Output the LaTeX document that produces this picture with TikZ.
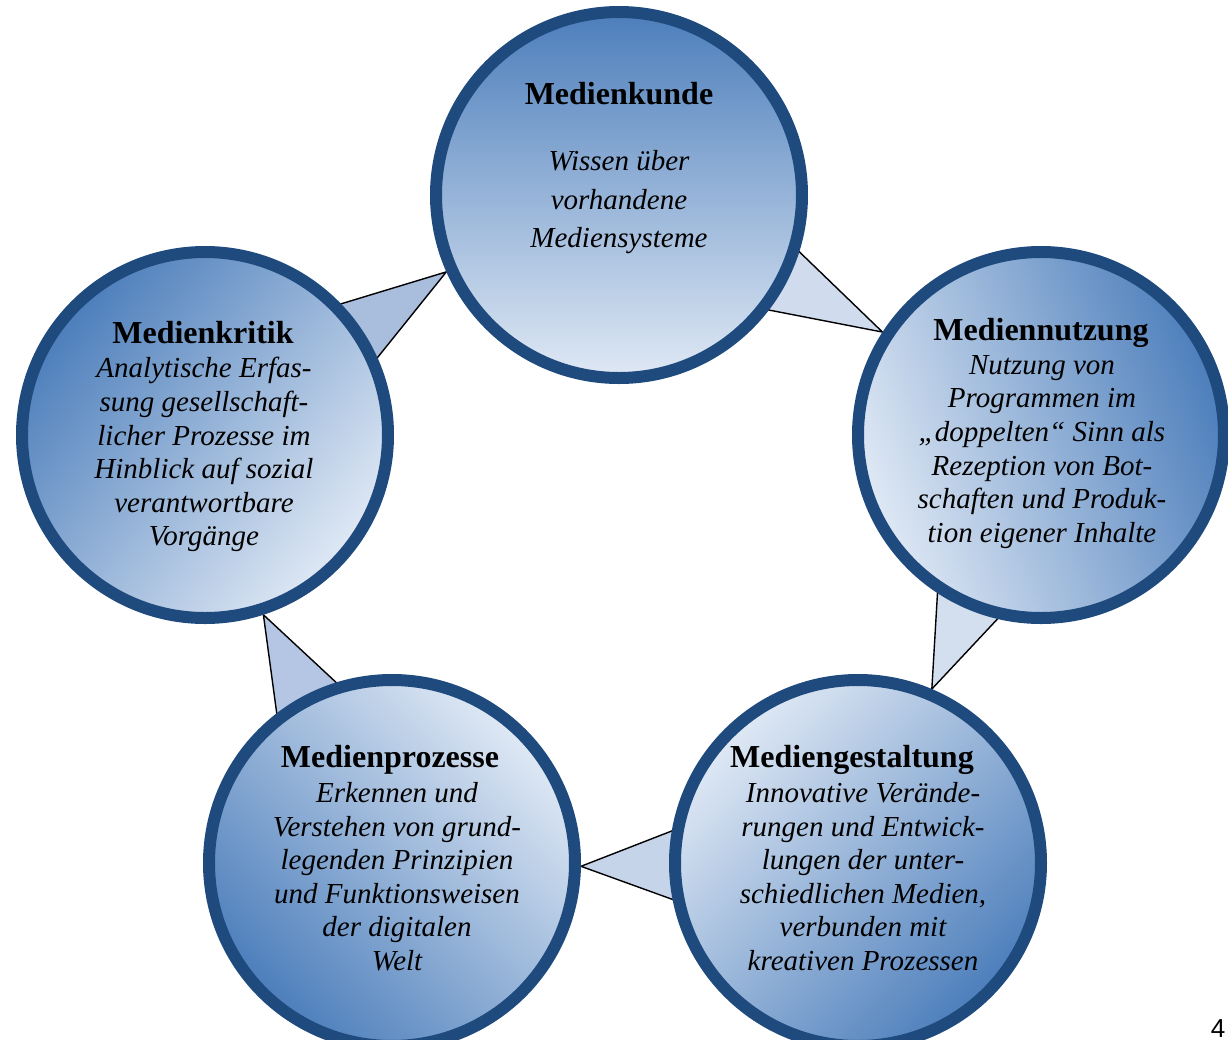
\documentclass[tikz,border=0pt]{standalone}
\usepackage{fontspec}
\setmainfont{Liberation Serif}
\newfontfamily\seitenfont{Liberation Sans}
\usepackage{tikz}
\usetikzlibrary{calc,backgrounds}
\definecolor{rand}{RGB}{31,74,126}
\definecolor{dunkel}{RGB}{76,126,187}
\definecolor{hell}{RGB}{224,233,245}
\definecolor{keilA}{RGB}{208,220,238}
\definecolor{keilB}{RGB}{211,223,239}
\definecolor{keilC}{RGB}{198,212,234}
\definecolor{keilD}{RGB}{180,198,227}
\definecolor{keilE}{RGB}{169,189,220}

\begin{document}
\begin{tikzpicture}
    [x=0.5pt,y=-0.5pt,
      kreis/.style={circle,draw=rand,line width=6pt,minimum size=183pt,inner sep=0pt,
        top color=dunkel,bottom color=hell},
      titel/.style={anchor=base,inner sep=0pt,font=\fontsize{16}{19}\selectfont\bfseries},
      inhalt/.style={anchor=north,inner sep=0pt,align=center,font=\fontsize{14.5}{16.8}\selectfont\itshape},
      keil/.style={draw=black,line width=0.7pt}]
      \useasboundingbox (0,0) rectangle (1228,1040);

      \node[kreis,shading angle=0] (kunde) at (619,195) {};
      \node[kreis,shading angle=-70] (nutzung) at (1041,435) {};
      \node[kreis,shading angle=-135] (gestaltung) at (858,863) {};
      \node[kreis,shading angle=135] (prozesse) at (392,863) {};
      \node[kreis,shading angle=50] (kritik) at (205,435) {};

      % Keile von Kreis zu Kreis
      \begin{scope}[on background layer]
      \foreach \from/\to/\winkel/\breite/\farbe in {
	  kunde/nutzung/147/44/keilA,
	  nutzung/gestaltung/67/50/keilB,
	  gestaltung/prozesse/-1/52/keilC,
	  prozesse/kritik/-72/50/keilD,
	  kritik/kunde/204/45/keilE}
	\draw[keil,fill=\farbe] (\to.\winkel) -- ($(\from.center)!\breite pt!90:(\to.\winkel)$)
	  -- ($(\from.center)!\breite pt!-90:(\to.\winkel)$) -- cycle;
      \end{scope}

      \node[titel] (kunde-titel) at (619,104) {Medienkunde};
      \node[inhalt,font=\fontsize{14.5}{19.25}\selectfont\itshape] (kunde-text) at (619,150)
	{Wissen über\\vorhandene\\Mediensysteme};

      \node[titel] (nutzung-titel) at (1041,340) {Mediennutzung};
      \node[inhalt] (nutzung-text) at (1042,355)
	{Nutzung von\\Programmen im\\„doppelten“ Sinn als\\Rezeption von Bot-\\schaften und Produk-\\tion eigener Inhalte};

      \node[titel] (gestaltung-titel) at (852,767) {Mediengestaltung};
      \node[inhalt] (gestaltung-text) at (863,782)
	{Innovative Verände-\\rungen und Entwick-\\lungen der unter-\\schiedlichen Medien,\\verbunden mit\\kreativen Prozessen};

      \node[titel] (prozesse-titel) at (390,767) {Medienprozesse};
      \node[inhalt] (prozesse-text) at (397,782)
	{Erkennen und\\Verstehen von grund-\\legenden Prinzipien\\und Funktionsweisen\\der digitalen\\Welt};

      \node[titel] (kritik-titel) at (203,343) {Medienkritik};
      \node[inhalt] (kritik-text) at (204,357)
	{Analytische Erfas-\\sung gesellschaft-\\licher Prozesse im\\Hinblick auf sozial\\verantwortbare\\Vorgänge};

      \node[anchor=base,inner sep=0pt,font=\seitenfont\fontsize{13}{15}\selectfont] (seite) at (1218,1037) {4};
    \end{tikzpicture}
\end{document}
